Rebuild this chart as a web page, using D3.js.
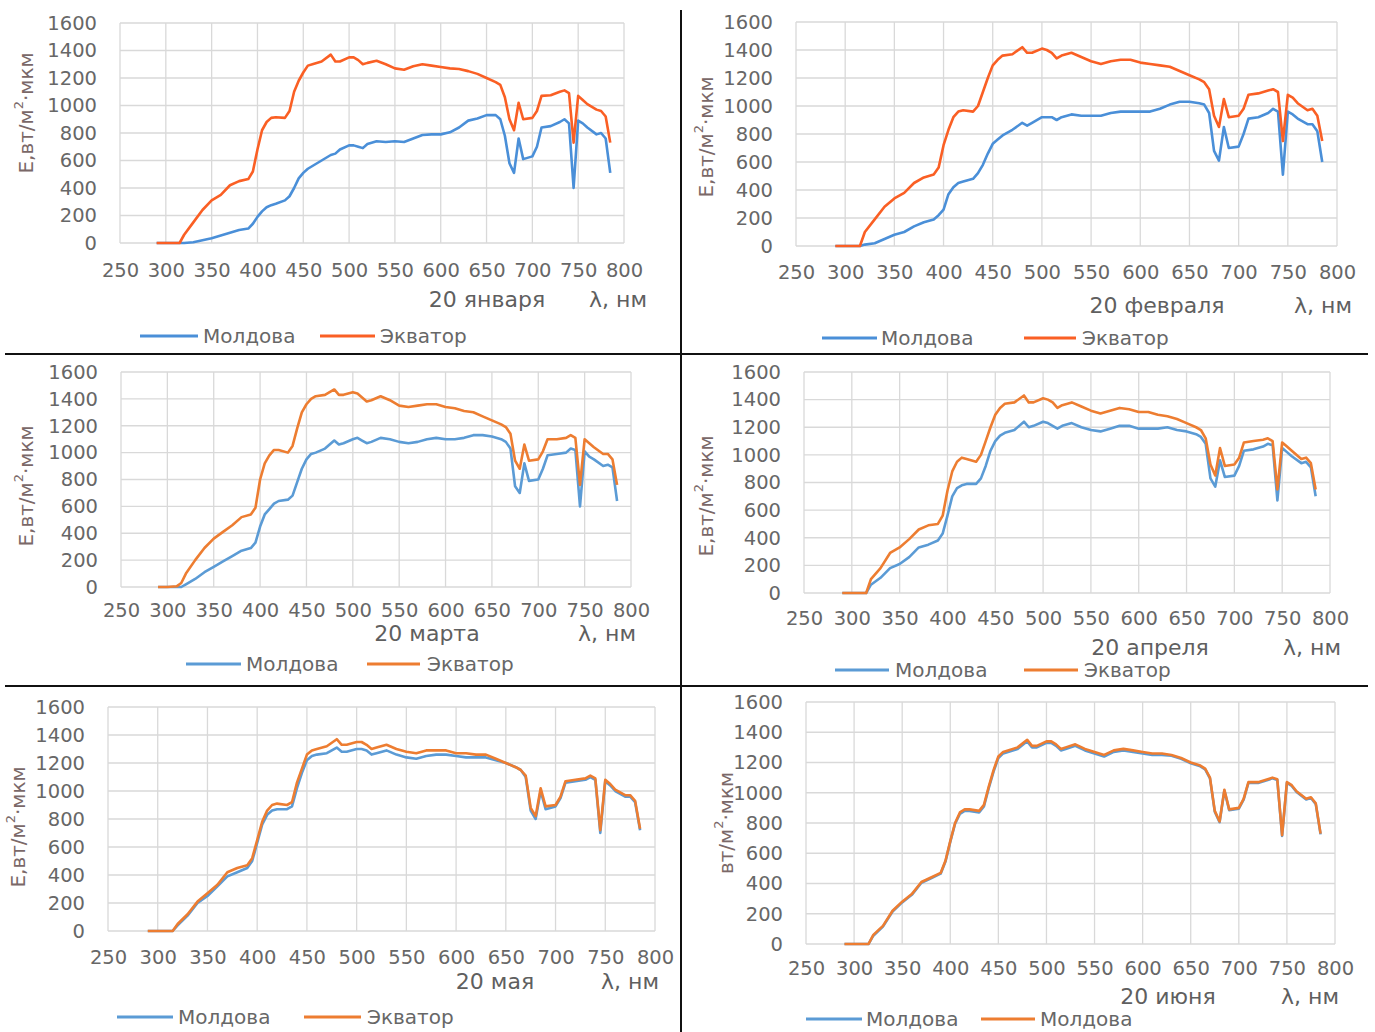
<!DOCTYPE html>
<html>
<head>
<meta charset="utf-8">
<script src="https://cdn.jsdelivr.net/npm/d3@7"></script>
<style>
  body { margin: 0; background: #fff; }
  svg { display: block; font-family: "DejaVu Sans", sans-serif; }
</style>
</head>
<body>
<script>
// wavelengths, nm
var wl = [290, 300, 310, 315, 320, 330, 340, 350, 360, 370,
  380, 390, 395, 400, 405, 410, 415, 420, 430, 435,
  440, 445, 450, 455, 460, 470, 480, 485, 490, 500,
  505, 510, 515, 520, 530, 540, 550, 560, 570, 580,
  590, 600, 610, 620, 630, 640, 650, 660, 665, 670,
  675, 680, 685, 690, 700, 705, 710, 720, 730, 735,
  740, 745, 750, 755, 760, 770, 775, 780, 785];

var xTicks = [250, 300, 350, 400, 450, 500, 550, 600, 650, 700, 750, 800];
var yTicks = [0, 200, 400, 600, 800, 1000, 1200, 1400, 1600];

// 20 января
var moldovaJan = [0, 0, 0, 0, 0, 5, 20, 35, 55, 75,
  95, 105, 140, 190, 230, 260, 275, 285, 310, 340,
  400, 470, 510, 540, 560, 600, 640, 650, 680, 710,
  710, 700, 690, 720, 740, 735, 740, 735, 760, 785,
  790, 790, 805, 840, 890, 905, 930, 930, 900, 780,
  580, 510, 760, 610, 630, 700, 840, 850, 880, 900,
  870, 400, 890, 870, 840, 790, 800, 760, 510];
var ekvatorJan = [0, 0, 0, 0, 60, 150, 240, 310, 350, 420,
  450, 465, 520, 680, 820, 880, 910, 915, 910, 960,
  1100, 1180, 1240, 1290, 1300, 1320, 1370, 1320, 1320, 1350,
  1350, 1330, 1300, 1310, 1325, 1300, 1270, 1260, 1285, 1300,
  1290, 1280, 1270, 1265, 1250, 1230, 1200, 1170, 1150, 1060,
  900, 820, 1020, 900, 910, 960, 1070, 1075, 1100, 1110,
  1090, 730, 1070, 1040, 1010, 970, 960, 920, 730];

// 20 февраля
var moldovaFeb = [0, 0, 0, 0, 10, 20, 50, 80, 100, 140,
  170, 190, 220, 260, 370, 420, 450, 460, 480, 520,
  580, 660, 730, 760, 790, 830, 880, 860, 880, 920,
  920, 920, 900, 920, 940, 930, 930, 930, 950, 960,
  960, 960, 960, 980, 1010, 1030, 1030, 1020, 1010, 950,
  680, 610, 850, 700, 710, 800, 910, 920, 950, 980,
  960, 510, 960, 940, 910, 870, 870, 820, 600];
var ekvatorFeb = [0, 0, 0, 0, 100, 190, 280, 340, 380, 450,
  490, 510, 560, 720, 830, 920, 960, 970, 960, 1000,
  1100, 1200, 1290, 1330, 1360, 1370, 1420, 1380, 1380, 1410,
  1400, 1380, 1340, 1360, 1380, 1350, 1320, 1300, 1320, 1330,
  1330, 1310, 1300, 1290, 1280, 1250, 1220, 1190, 1170, 1120,
  930, 850, 1050, 920, 930, 980, 1080, 1090, 1110, 1120,
  1100, 750, 1080, 1060, 1020, 970, 980, 930, 750];

// 20 марта
var moldovaMar = [0, 0, 0, 0, 20, 60, 110, 150, 190, 230,
  270, 290, 330, 450, 540, 580, 620, 640, 650, 680,
  780, 880, 950, 990, 1000, 1030, 1090, 1060, 1070, 1100,
  1110, 1090, 1070, 1080, 1110, 1100, 1080, 1070, 1080, 1100,
  1110, 1100, 1100, 1110, 1130, 1130, 1120, 1100, 1080, 1030,
  750, 700, 920, 790, 800, 880, 980, 990, 1000, 1030,
  1020, 600, 1010, 970, 950, 900, 910, 890, 640];
var ekvatorMar = [0, 0, 5, 30, 100, 200, 290, 360, 410, 460,
  520, 540, 590, 800, 920, 980, 1020, 1020, 1000, 1050,
  1180, 1300, 1360, 1400, 1420, 1430, 1470, 1430, 1430, 1450,
  1440, 1410, 1380, 1390, 1420, 1390, 1350, 1340, 1350, 1360,
  1360, 1340, 1330, 1310, 1300, 1270, 1240, 1210, 1190, 1140,
  940, 880, 1060, 940, 950, 1010, 1100, 1100, 1110, 1130,
  1110, 760, 1100, 1070, 1040, 990, 990, 950, 760];

// 20 апреля
var moldovaApr = [0, 0, 0, 0, 60, 110, 180, 210, 260, 330,
  350, 380, 430, 560, 700, 760, 780, 790, 790, 830,
  920, 1030, 1100, 1140, 1160, 1180, 1240, 1200, 1210, 1240,
  1230, 1210, 1190, 1210, 1230, 1200, 1180, 1170, 1190, 1210,
  1210, 1190, 1190, 1190, 1200, 1180, 1170, 1150, 1130, 1080,
  830, 770, 960, 840, 850, 920, 1030, 1040, 1060, 1080,
  1070, 670, 1050, 1020, 990, 940, 950, 910, 700];
var ekvatorApr = [0, 0, 0, 0, 100, 180, 290, 330, 390, 460,
  490, 500, 560, 740, 880, 950, 980, 970, 950, 1000,
  1100, 1200, 1290, 1340, 1370, 1380, 1430, 1380, 1380, 1410,
  1400, 1380, 1340, 1360, 1380, 1350, 1320, 1300, 1320, 1340,
  1330, 1310, 1310, 1290, 1280, 1260, 1230, 1200, 1180, 1120,
  930, 850, 1050, 920, 930, 980, 1090, 1100, 1110, 1120,
  1100, 750, 1090, 1060, 1030, 970, 980, 940, 750];

// 20 мая
var moldovaMay = [0, 0, 0, 0, 40, 110, 200, 250, 320, 390,
  420, 450, 500, 630, 760, 830, 860, 870, 870, 890,
  1020, 1130, 1220, 1250, 1260, 1270, 1310, 1280, 1280, 1300,
  1300, 1290, 1260, 1270, 1290, 1260, 1240, 1230, 1250, 1260,
  1260, 1250, 1240, 1240, 1240, 1220, 1200, 1170, 1150, 1100,
  860, 800, 1000, 870, 890, 950, 1060, 1070, 1080, 1100,
  1080, 700, 1070, 1040, 1000, 960, 960, 920, 720];
var ekvatorMay = [0, 0, 0, 0, 50, 120, 210, 270, 330, 420,
  450, 470, 520, 650, 780, 860, 900, 910, 900, 920,
  1060, 1160, 1260, 1290, 1300, 1320, 1370, 1330, 1330, 1350,
  1350, 1330, 1300, 1310, 1330, 1300, 1280, 1270, 1290, 1290,
  1290, 1270, 1270, 1260, 1260, 1230, 1200, 1170, 1150, 1110,
  880, 820, 1020, 890, 900, 960, 1070, 1080, 1090, 1110,
  1090, 720, 1080, 1050, 1010, 970, 970, 930, 730];

// 20 июня
var moldovaJun = [0, 0, 0, 0, 55, 115, 215, 275, 325, 405,
  435, 465, 545, 675, 795, 860, 880, 880, 870, 910,
  1030, 1140, 1230, 1260, 1270, 1290, 1340, 1300, 1300, 1330,
  1330, 1310, 1280, 1290, 1310, 1280, 1260, 1240, 1270, 1280,
  1270, 1260, 1250, 1250, 1245, 1225, 1195, 1175, 1155, 1095,
  875, 805, 1015, 885, 895, 955, 1065, 1065, 1085, 1095,
  1085, 715, 1065, 1045, 1005, 955, 965, 925, 725];
var ekvatorJun = [0, 0, 0, 0, 60, 120, 220, 280, 330, 410,
  440, 470, 550, 680, 800, 870, 890, 890, 880, 920,
  1040, 1150, 1240, 1270, 1280, 1300, 1350, 1310, 1310, 1340,
  1340, 1320, 1290, 1300, 1320, 1290, 1270, 1250, 1280, 1290,
  1280, 1270, 1260, 1260, 1250, 1230, 1200, 1180, 1160, 1100,
  880, 810, 1020, 890, 900, 960, 1070, 1070, 1090, 1100,
  1090, 720, 1070, 1050, 1010, 960, 970, 930, 730];

var dates = ["20 января", "20 февраля", "20 марта", "20 апреля", "20 мая", "20 июня"];
var legendNames = [["Молдова", "Экватор"], ["Молдова", "Экватор"], ["Молдова", "Экватор"],
  ["Молдова", "Экватор"], ["Молдова", "Экватор"], ["Молдова", "Молдова"]];

var svg = d3.select("body").append("svg")
  .attr("width", 1375)
  .attr("height", 1032);

svg.append("rect").attr("width", 1375).attr("height", 1032).attr("fill", "#fff");

// layout of each panel (plot box, label rows, legend)
var panels = [
  { m: moldovaJan, e: ekvatorJan, left: 120, right: 624, top: 23, bottom: 243, tickY: 270,
    titleX: 26, titleY: 113, title: "E,вт/м", dateX: 487, dateY: 299, lamX: 618,
    legY: 336, leg: [140, 198, 203, 320, 375, 380], blue: "#4a8fd8", orange: "#fa5f24" },
  { m: moldovaFeb, e: ekvatorFeb, left: 796, right: 1337, top: 22, bottom: 246, tickY: 272,
    titleX: 706, titleY: 137, title: "E,вт/м", dateX: 1157, dateY: 305, lamX: 1323,
    legY: 338, leg: [822, 877, 881, 1024, 1076, 1082], blue: "#4a8fd8", orange: "#fa5f24" },
  { m: moldovaMar, e: ekvatorMar, left: 121, right: 631, top: 372, bottom: 587, tickY: 610,
    titleX: 26, titleY: 486, title: "E,вт/м", dateX: 427, dateY: 633, lamX: 607,
    legY: 664, leg: [186, 241, 246, 367, 420, 427], blue: "#5b9bd5", orange: "#ed7d31" },
  { m: moldovaApr, e: ekvatorApr, left: 804, right: 1330, top: 372, bottom: 593, tickY: 618,
    titleX: 706, titleY: 496, title: "E,вт/м", dateX: 1150, dateY: 647, lamX: 1312,
    legY: 670, leg: [835, 889, 895, 1024, 1078, 1084], blue: "#5b9bd5", orange: "#ed7d31" },
  { m: moldovaMay, e: ekvatorMay, left: 108, right: 655, top: 707, bottom: 931, tickY: 957,
    titleX: 18, titleY: 827, title: "E,вт/м", dateX: 495, dateY: 981, lamX: 630,
    legY: 1017, leg: [117, 173, 178, 304, 361, 367], blue: "#5b9bd5", orange: "#ed7d31" },
  { m: moldovaJun, e: ekvatorJun, left: 806, right: 1335, top: 702, bottom: 944, tickY: 968,
    titleX: 726, titleY: 823, title: "вт/м", dateX: 1168, dateY: 996, lamX: 1310,
    legY: 1019, leg: [806, 862, 866, 981, 1035, 1040], blue: "#5b9bd5", orange: "#ed7d31" }
];

panels.forEach(function (p, i) {
  var x = d3.scaleLinear().domain([250, 800]).range([p.left, p.right]);
  var y = d3.scaleLinear().domain([0, 1600]).range([p.bottom, p.top]);
  var g = svg.append("g");

  // gridlines
  g.selectAll("line.vgrid").data(xTicks).enter().append("line")
    .attr("x1", d => x(d)).attr("x2", d => x(d))
    .attr("y1", p.top).attr("y2", p.bottom)
    .attr("stroke", "#d9d9d9").attr("stroke-width", 1.3);
  g.selectAll("line.hgrid").data(yTicks).enter().append("line")
    .attr("x1", p.left).attr("x2", p.right)
    .attr("y1", d => y(d)).attr("y2", d => y(d))
    .attr("stroke", "#d9d9d9").attr("stroke-width", 1.3);

  // axes (labels only)
  var xAxis = g.append("g")
    .attr("transform", `translate(0, ${p.bottom})`)
    .call(d3.axisBottom(x).tickValues(xTicks).tickFormat(d3.format("d"))
      .tickSize(0).tickPadding(p.tickY - p.bottom - 6.5));
  var yAxis = g.append("g")
    .attr("transform", `translate(${p.left}, 0)`)
    .call(d3.axisLeft(y).tickValues(yTicks).tickFormat(d3.format("d"))
      .tickSize(0).tickPadding(23));
  [xAxis, yAxis].forEach(function (a) {
    a.select(".domain").remove();
    a.selectAll("text")
      .attr("fill", "#676767")
      .attr("font-family", "DejaVu Sans")
      .attr("font-size", 19.5);
  });

  // series
  var line = d3.line()
    .x((d, k) => x(wl[k]))
    .y(d => y(d));
  g.append("path").datum(p.m)
    .attr("d", line).attr("fill", "none")
    .attr("stroke", p.blue).attr("stroke-width", 2.6).attr("stroke-linejoin", "round");
  g.append("path").datum(p.e)
    .attr("d", line).attr("fill", "none")
    .attr("stroke", p.orange).attr("stroke-width", 2.6).attr("stroke-linejoin", "round");

  // y axis title
  var t = g.append("text")
    .attr("transform", `translate(${p.titleX}, ${p.titleY}) rotate(-90)`)
    .attr("text-anchor", "middle")
    .attr("dominant-baseline", "central")
    .attr("fill", "#7a6868")
    .attr("font-size", 20);
  t.append("tspan").text(p.title);
  t.append("tspan").attr("dy", -8).attr("font-size", 13).text("2");
  t.append("tspan").attr("dy", 8).text("·мкм");

  // date and unit
  g.append("text")
    .attr("x", p.dateX).attr("y", p.dateY)
    .attr("text-anchor", "middle").attr("dominant-baseline", "central")
    .attr("fill", "#5f5f5f").attr("font-size", 22)
    .text(dates[i]);
  g.append("text")
    .attr("x", p.lamX).attr("y", p.dateY)
    .attr("text-anchor", "middle").attr("dominant-baseline", "central")
    .attr("fill", "#5f5f5f").attr("font-size", 22)
    .text("λ, нм");

  // legend
  var cols = [p.blue, p.orange];
  [0, 1].forEach(function (k) {
    var L = p.leg.slice(k * 3, k * 3 + 3);
    g.append("line")
      .attr("x1", L[0]).attr("x2", L[1])
      .attr("y1", p.legY).attr("y2", p.legY)
      .attr("stroke", cols[k]).attr("stroke-width", 3);
    g.append("text")
      .attr("x", L[2]).attr("y", p.legY)
      .attr("dominant-baseline", "central")
      .attr("fill", "#676767").attr("font-size", 20)
      .text(legendNames[i][k]);
  });
});

// dividers between the panels
svg.append("line").attr("x1", 681).attr("x2", 681).attr("y1", 10).attr("y2", 1032)
  .attr("stroke", "#111").attr("stroke-width", 2);
svg.append("line").attr("x1", 5).attr("x2", 1368).attr("y1", 354).attr("y2", 354)
  .attr("stroke", "#111").attr("stroke-width", 2);
svg.append("line").attr("x1", 5).attr("x2", 1368).attr("y1", 686).attr("y2", 686)
  .attr("stroke", "#111").attr("stroke-width", 2);
</script>
</body>
</html>
